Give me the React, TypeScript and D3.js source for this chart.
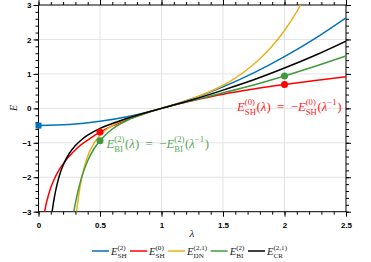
import React, { useEffect, useRef } from 'react';
import * as d3 from 'd3';

// [lambda, E] readings per strain measure
const shTwo: [number, number][] = [
  [0, -0.5], [0.25, -0.47], [0.5, -0.375], [0.75, -0.22], [1, 0], [1.25, 0.28],
  [1.5, 0.625], [1.75, 1.03], [2, 1.5], [2.25, 2.03], [2.5, 2.625],
];
const shZero: [number, number][] = [
  [0.05, -3.0], [0.06, -2.81], [0.08, -2.53], [0.1, -2.3], [0.13, -2.04], [0.16, -1.83],
  [0.2, -1.61], [0.25, -1.39], [0.3, -1.2], [0.4, -0.92], [0.5, -0.69], [0.6, -0.51],
  [0.75, -0.29], [0.9, -0.105], [1, 0], [1.25, 0.22], [1.5, 0.41], [1.75, 0.56],
  [2, 0.69], [2.25, 0.81], [2.5, 0.92],
];
const dnTwoOne: [number, number][] = [
  [0.31, -3.0], [0.32, -2.71], [0.335, -2.34], [0.35, -2.04], [0.375, -1.67], [0.4, -1.39],
  [0.45, -1.02], [0.5, -0.78], [0.6, -0.5], [0.75, -0.26], [0.9, -0.1], [1, 0],
  [1.25, 0.28], [1.5, 0.67], [1.6, 0.88], [1.75, 1.28], [1.8, 1.44], [1.9, 1.81],
  [2, 2.26], [2.1, 2.81], [2.13, 3.0],
];
const biTwo: [number, number][] = [
  [0.287, -3.0], [0.3, -2.75], [0.32, -2.42], [0.35, -2.01], [0.4, -1.52], [0.45, -1.18],
  [0.5, -0.94], [0.6, -0.6], [0.75, -0.3], [0.9, -0.106], [1, 0], [1.25, 0.23],
  [1.5, 0.45], [1.75, 0.68], [2, 0.94], [2.25, 1.22], [2.5, 1.52],
];
const crTwoOne: [number, number][] = [
  [0.111, -3.0], [0.12, -2.77], [0.13, -2.56], [0.15, -2.22], [0.175, -1.89], [0.2, -1.65],
  [0.25, -1.31], [0.3, -1.08], [0.35, -0.91], [0.4, -0.78], [0.5, -0.58], [0.6, -0.44],
  [0.75, -0.26], [0.9, -0.1], [1, 0], [1.25, 0.25], [1.5, 0.53], [1.75, 0.83],
  [2, 1.17], [2.25, 1.54], [2.5, 1.95],
];
const shZeroDots: [number, number][] = [[0.5, -0.69], [2, 0.69]];
const biTwoDots: [number, number][] = [[0.5, -0.94], [2, 0.94]];
const shTwoSquare: [number, number][] = [[0, -0.5]];

const xTicks = [0, 0.5, 1, 1.5, 2, 2.5];
const yTicks = [-3, -2, -1, 0, 1, 2, 3];
const xMinor = d3.range(0, 26).map(i => i / 10);
const yMinor = d3.range(-15, 16).map(i => i / 5);

type Seg = { t: string; it?: boolean } | { sup: string; sub?: string };

const series = [
  { key: 'SH2', data: shTwo, color: '#0072BD', sup: '(2)', sub: 'SH' },
  { key: 'SH0', data: shZero, color: '#FF0000', sup: '(0)', sub: 'SH' },
  { key: 'DN', data: dnTwoOne, color: '#EDB120', sup: '(2,1)', sub: 'DN' },
  { key: 'BI', data: biTwo, color: '#3F9A3F', sup: '(2)', sub: 'BI' },
  { key: 'CR', data: crTwoOne, color: '#000000', sup: '(2,1)', sub: 'CR' },
];

const serif = '"Liberation Serif", "DejaVu Serif", serif';

function drawMath(g: any, x: number, y: number, fs: number, segs: Seg[], color: string) {
  let cx = x;
  const small = fs * 0.68;
  segs.forEach(s => {
    if ('t' in s) {
      const t = g.append('text').attr('x', cx).attr('y', y)
        .attr('font-family', serif).attr('font-size', fs)
        .attr('font-style', s.it ? 'italic' : 'normal')
        .attr('fill', color).style('white-space', 'pre').text(s.t);
      cx += (t.node() as SVGTextElement).getComputedTextLength();
    } else {
      const a = g.append('text').attr('x', cx).attr('y', y - fs * 0.45)
        .attr('font-family', serif).attr('font-size', small).attr('fill', color).text(s.sup);
      let w = (a.node() as SVGTextElement).getComputedTextLength();
      if (s.sub) {
        const b = g.append('text').attr('x', cx).attr('y', y + fs * 0.3)
          .attr('font-family', serif).attr('font-size', small).attr('fill', color).text(s.sub);
        w = Math.max(w, (b.node() as SVGTextElement).getComputedTextLength());
      }
      cx += w + fs * 0.05;
    }
  });
  return cx - x;
}

const App = () => {
  const svgRef = useRef<SVGSVGElement>(null);

  useEffect(() => {
    const svg = d3.select(svgRef.current);
    svg.selectAll('*').remove();

    const x = d3.scaleLinear().domain([0, 2.5]).range([38.5, 346]);
    const y = d3.scaleLinear().domain([-3, 3]).range([211.7, 5]);
    const [x0, x1] = x.range();
    const [y0, y1] = y.range();

    svg.append('defs').append('clipPath').attr('id', 'plotclip')
      .append('rect').attr('x', x0).attr('y', y1).attr('width', x1 - x0).attr('height', y0 - y1);

    // grid
    const grid = svg.append('g').attr('stroke', '#e3e3e3').attr('stroke-width', 1);
    xTicks.slice(1, -1).forEach(v => {
      grid.append('line').attr('x1', x(v)).attr('x2', x(v)).attr('y1', y1).attr('y2', y0);
    });
    yTicks.slice(1, -1).forEach(v => {
      grid.append('line').attr('x1', x0).attr('x2', x1).attr('y1', y(v)).attr('y2', y(v));
    });

    // axes
    const tickFont = (sel: any) => sel.selectAll('text')
      .attr('font-family', '"Liberation Sans", Arial, sans-serif')
      .attr('font-weight', 'bold').attr('font-size', 8).attr('fill', '#000');
    const clean = (sel: any) => { sel.select('.domain').remove(); sel.selectAll('line').attr('stroke', '#000'); };

    const addAxis = (axis: any, tr: string, fmt: boolean) => {
      const g = svg.append('g').attr('transform', tr).call(axis);
      clean(g);
      if (fmt) tickFont(g); else g.selectAll('text').remove();
    };
    addAxis(d3.axisBottom(x).tickValues(xMinor).tickSize(3).tickFormat(() => ''), `translate(0,${y0})`, false);
    addAxis(d3.axisBottom(x).tickValues(xTicks).tickSize(5).tickPadding(6).tickFormat(d3.format('')), `translate(0,${y0})`, true);
    addAxis(d3.axisTop(x).tickValues(xMinor).tickSize(3).tickFormat(() => ''), `translate(0,${y1})`, false);
    addAxis(d3.axisTop(x).tickValues(xTicks).tickSize(5).tickFormat(() => ''), `translate(0,${y1})`, false);
    addAxis(d3.axisLeft(y).tickValues(yMinor).tickSize(3).tickFormat(() => ''), `translate(${x0},0)`, false);
    addAxis(d3.axisLeft(y).tickValues(yTicks).tickSize(5).tickPadding(2).tickFormat(d3.format('')), `translate(${x0},0)`, true);
    addAxis(d3.axisRight(y).tickValues(yMinor).tickSize(3).tickFormat(() => ''), `translate(${x1},0)`, false);
    addAxis(d3.axisRight(y).tickValues(yTicks).tickSize(5).tickFormat(() => ''), `translate(${x1},0)`, false);

    svg.append('rect').attr('x', x0).attr('y', y1).attr('width', x1 - x0).attr('height', y0 - y1)
      .attr('fill', 'none').attr('stroke', '#000').attr('stroke-width', 1);

    // curves
    const line = d3.line<[number, number]>().x(d => x(d[0])).y(d => y(d[1])).curve(d3.curveMonotoneX);
    const plot = svg.append('g').attr('clip-path', 'url(#plotclip)');
    series.forEach(s => {
      plot.append('path').attr('d', line(s.data)).attr('fill', 'none')
        .attr('stroke', s.color).attr('stroke-width', 1.5);
    });

    // markers
    svg.selectAll('.sq').data(shTwoSquare).enter().append('rect')
      .attr('x', d => x(d[0]) - 3).attr('y', d => y(d[1]) - 3).attr('width', 6).attr('height', 6)
      .attr('fill', '#0072BD');
    svg.selectAll('.rd').data(shZeroDots).enter().append('circle')
      .attr('cx', d => x(d[0])).attr('cy', d => y(d[1])).attr('r', 3.5).attr('fill', '#FF0000');
    svg.selectAll('.gd').data(biTwoDots).enter().append('circle')
      .attr('cx', d => x(d[0])).attr('cy', d => y(d[1])).attr('r', 3.5).attr('fill', '#3F9A3F');

    // annotations
    const ann = svg.append('g');
    const eqn = (sup: string, sub: string): Seg[] => [
      { t: 'E', it: true }, { sup, sub }, { t: '(' }, { t: 'λ', it: true }, { t: ')  =  −' },
      { t: 'E', it: true }, { sup, sub }, { t: '(' }, { t: 'λ', it: true }, { sup: '−1' }, { t: ')' },
    ];
    drawMath(ann, 237, 111, 12.8, eqn('(0)', 'SH'), '#F22');
    drawMath(ann, 106.5, 148, 12.8, eqn('(2)', 'BI'), '#55A855');

    // axis labels
    svg.append('text').attr('transform', 'translate(17,108) rotate(-90)').attr('text-anchor', 'middle')
      .attr('font-family', serif).attr('font-style', 'italic').attr('font-size', 10).attr('fill', '#222').text('E');
    svg.append('text').attr('x', 192).attr('y', 237).attr('text-anchor', 'middle')
      .attr('font-family', serif).attr('font-style', 'italic').attr('font-size', 11).attr('fill', '#222').text('λ');

    // legend
    const leg = svg.append('g');
    let lx = 92;
    series.forEach(s => {
      leg.append('line').attr('x1', lx).attr('x2', lx + 17).attr('y1', 251).attr('y2', 251)
        .attr('stroke', s.color).attr('stroke-width', 1.5);
      const w = drawMath(leg, lx + 19, 254.5, 10.5, [{ t: 'E', it: true }, { sup: s.sup, sub: s.sub }], '#222');
      lx += 19 + w + 3;
    });
  }, []);

  return (
    <svg ref={svgRef} width={371} height={262}
      style={{ position: 'absolute', left: 0, top: 0, background: '#fff' }} />
  );
};

export default App;
